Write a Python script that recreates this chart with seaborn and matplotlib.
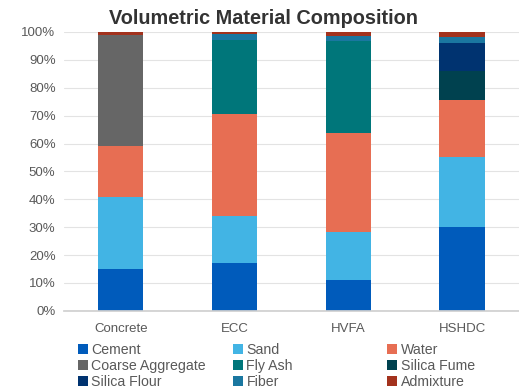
import numpy as np
import pandas as pd
import matplotlib
matplotlib.use("Agg")
import matplotlib.pyplot as plt
import seaborn as sns
from matplotlib.patches import Patch
from matplotlib.ticker import PercentFormatter

mixes = ["Concrete", "ECC", "HVFA", "HSHDC"]
components = ["Cement", "Sand", "Water", "Coarse Aggregate", "Fly Ash",
              "Silica Fume", "Silica Flour", "Fiber", "Admixture"]

cement = [15.0, 17.0, 11.2, 30.0]
sand = [26.0, 17.0, 17.0, 25.0]
water = [18.0, 36.5, 35.5, 20.5]
coarse_aggregate = [40.0, 0.0, 0.0, 0.0]
fly_ash = [0.0, 26.5, 33.0, 0.0]
silica_fume = [0.0, 0.0, 0.0, 10.5]
silica_flour = [0.0, 0.0, 0.0, 10.0]
fiber = [0.0, 2.2, 1.8, 2.1]
admixture = [1.0, 0.8, 1.5, 1.9]

colors = ["#005BBB", "#42B4E4", "#E76E53", "#666666", "#00767A",
          "#00414F", "#003370", "#1A77A0", "#A3321D"]

values = [cement, sand, water, coarse_aggregate, fly_ash,
          silica_fume, silica_flour, fiber, admixture]
df = pd.DataFrame({name: vals for name, vals in zip(components, values)}, index=mixes)

sns.set_theme(style="white")
plt.rcParams["font.family"] = ["Liberation Sans", "DejaVu Sans"]

fig = plt.figure(figsize=(5.19, 3.90), dpi=100)
ax = fig.add_axes([0.123, 0.203, 0.877, 0.715])

bottom = np.zeros(len(mixes))
for comp, col in zip(components, colors):
    sns.barplot(x=mixes, y=df[comp].values, color=col, bottom=bottom,
                width=0.4, ax=ax, linewidth=0, saturation=1)
    bottom += df[comp].values

ax.set_ylim(0, 100)
ax.set_xlim(-0.5, 3.5)
ax.set_yticks(np.arange(0, 101, 10))
ax.yaxis.set_major_formatter(PercentFormatter(decimals=0))
ax.grid(axis="y", color="#E3E3E3", linewidth=0.8)
ax.set_axisbelow(True)
for s in ["top", "right", "left"]:
    ax.spines[s].set_visible(False)
ax.spines["bottom"].set_color("#D0D0D0")
ax.tick_params(axis="y", length=0, labelsize=9.5, labelcolor="#595959", pad=6)
ax.tick_params(axis="x", length=0, labelsize=9.5, labelcolor="#595959", pad=9)

fig.suptitle("Volumetric Material Composition", x=0.508, y=0.978,
             fontsize=14.3, fontweight="bold", color="#333333")

# legend laid out row by row: three entries per column
col_x = [0.150, 0.449, 0.746]
for c in range(3):
    idx = [c, c + 3, c + 6]
    handles = [Patch(facecolor=colors[i], edgecolor="none") for i in idx]
    labels = [components[i] for i in idx]
    leg = fig.legend(handles, labels, loc="upper left",
                     bbox_to_anchor=(col_x[c], 0.12), frameon=False,
                     fontsize=10.2, handlelength=0.7, handleheight=0.7,
                     handletextpad=0.25, labelspacing=0.12, borderpad=0,
                     borderaxespad=0)
    for t in leg.get_texts():
        t.set_color("#595959")

fig.savefig("out.png", dpi=100)
